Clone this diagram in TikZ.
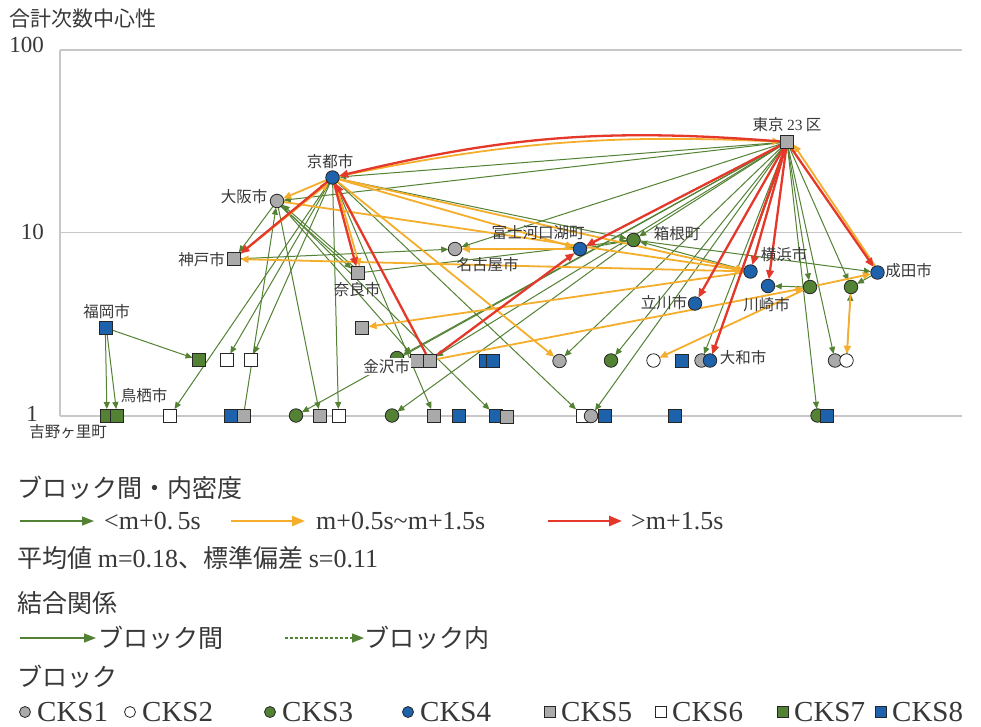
\documentclass[tikz,border=0pt]{standalone}
\usepackage{fontspec}
\setmainfont{Liberation Serif}
\newfontfamily\jp{Noto Sans CJK JP}
\usetikzlibrary{arrows.meta,backgrounds}
\definecolor{gline}{HTML}{548235}
\definecolor{oline}{HTML}{F4AE2C}
\definecolor{rline}{HTML}{E4382A}
\definecolor{gfill}{HTML}{548235}
\definecolor{bfill}{HTML}{1F62AC}
\definecolor{sfill}{HTML}{AAAAAA}
\definecolor{gridc}{HTML}{C8C8C8}
\definecolor{txt}{HTML}{383838}
\begin{document}
\begin{tikzpicture}[x=1pt,y=-1pt,
  mk/.style={draw=black!85, line width=0.8pt, inner sep=0pt, outer sep=0pt},
  ck/.style={mk, circle, minimum size=13.5pt},
  sq/.style={mk, rectangle, minimum size=13pt},
  k1/.style={ck, fill=sfill}, k2/.style={ck, fill=white},
  k3/.style={ck, fill=gfill}, k4/.style={ck, fill=bfill},
  k5/.style={sq, fill=sfill}, k6/.style={sq, fill=white},
  k7/.style={sq, fill=gfill}, k8/.style={sq, fill=bfill},
  lk1/.style={k1, minimum size=11pt}, lk2/.style={k2, minimum size=11pt},
  lk3/.style={k3, minimum size=11pt}, lk4/.style={k4, minimum size=11pt},
  lk5/.style={k5, minimum size=10.5pt}, lk6/.style={k6, minimum size=10.5pt},
  lk7/.style={k7, minimum size=10.5pt}, lk8/.style={k8, minimum size=10.5pt},
  lab/.style={font=\jp\fontsize{15.5}{16}\selectfont, text=txt, inner sep=0pt},
  axl/.style={font=\fontsize{23}{23}\selectfont, text=txt, inner sep=0pt, anchor=east},
  lgj/.style={font=\jp\fontsize{25}{26}\selectfont, text=txt, inner sep=0pt, anchor=west},
  lgl/.style={font=\fontsize{26}{26}\selectfont, text=txt, inner sep=0pt, anchor=west},
  cks/.style={font=\fontsize{29}{29}\selectfont, text=txt, inner sep=0pt, anchor=west},
  ge/.style={gline, line width=1pt, -{Triangle[length=7pt,width=6pt]}},
  oe/.style={oline, line width=1.8pt, -{Triangle[length=8pt,width=7pt]}},
  re/.style={rline, line width=2.3pt, -{Triangle[length=9pt,width=7.5pt]}},
  gleg/.style={gline, line width=1.3pt, -{Triangle[length=12pt,width=9pt]}},
  oleg/.style={oline, line width=2.4pt, -{Triangle[length=13pt,width=10pt]}},
  rleg/.style={rline, line width=2.6pt, -{Triangle[length=13pt,width=10pt]}}
]
\useasboundingbox (0,0) rectangle (981,726);

% ---------- axis texts ----------
\node[font=\jp\fontsize{21}{21}\selectfont, text=txt, inner sep=0pt, anchor=west] (ytitle) at (9,19) {合計次数中心性};
\node[axl] (t100) at (44,45) {100};
\node[axl] (t10) at (44,232) {10};
\node[axl] (t1) at (38,414) {1};

% ---------- upper nodes ----------
\node[k5] (tokyo) at (787,142) {};
\node[k4] (kyoto) at (332.5,177.5) {};
\node[k1] (osaka) at (277,201) {};
\node[k5] (kobe) at (234,259) {};
\node[k5] (nara) at (358,273) {};
\node[k1] (nagoya) at (455,249) {};
\node[k4] (fuji) at (580,249) {};
\node[k3] (hakone) at (633.5,240) {};
\node[k4] (yokohama) at (750.5,271.5) {};
\node[k4] (kawasaki) at (768,286) {};
\node[k3] (gA) at (810,287) {};
\node[k3] (gB) at (851,287) {};
\node[k4] (narita) at (877.5,272.5) {};
\node[k4] (tachikawa) at (695,303.5) {};
\node[k8] (fukuoka) at (106,328) {};
\node[k5] (sq1) at (362,327.5) {};

% ---------- middle row ----------
\node[k7] (p1) at (199,360) {};
\node[k6] (p2) at (226.5,360) {};
\node[k6] (p3) at (251,360) {};
\node[k3] (p4) at (397,358) {};
\node[k5] (kz1) at (417,360.5) {};
\node[k5] (kz2) at (429.5,360.5) {};
\node[k8] (p5) at (486,360.5) {};
\node[k8] (p6) at (493,360.5) {};
\node[k1] (p7) at (559.5,361) {};
\node[k3] (p8) at (611,360.5) {};
\node[k2] (p9) at (653.5,360.5) {};
\node[k8] (p10) at (682,360.5) {};
\node[k1] (p11) at (701.5,360.5) {};
\node[k4] (yamato) at (710,360.5) {};
\node[k1] (p12) at (835,360.5) {};
\node[k2] (p13) at (846.5,360.5) {};

% ---------- bottom row ----------
\node[k7] (q1) at (107,415.5) {};
\node[k7] (q2) at (117,415.5) {};
\node[k6] (q3) at (170,415.5) {};
\node[k8] (q4) at (231,415.5) {};
\node[k5] (q5) at (243.5,415.5) {};
\node[k3] (q6) at (296,415.5) {};
\node[k5] (q7) at (320,415.5) {};
\node[k6] (q8) at (338.5,415.5) {};
\node[k3] (q9) at (392,415.5) {};
\node[k5] (q10) at (434,415.5) {};
\node[k8] (q11) at (459,415.5) {};
\node[k8] (q12) at (496,416) {};
\node[k5] (q13) at (506.5,416.5) {};
\node[k6] (q14) at (582.5,415.5) {};
\node[k1] (q15) at (591,416) {};
\node[k8] (q16) at (604.5,416) {};
\node[k8] (q17) at (675,415.5) {};
\node[k3] (q18) at (817.5,415.5) {};
\node[k8] (q19) at (827,415.5) {};

% ---------- place names ----------
\node[lab] (l-tokyo) at (787,125) {東京 {\rmfamily 23} 区};
\node[lab] (l-kyoto) at (330,162) {京都市};
\node[lab] (l-osaka) at (244,197) {大阪市};
\node[lab] (l-kobe) at (201.5,260) {神戸市};
\node[lab] (l-nara) at (357,290) {奈良市};
\node[lab] (l-nagoya) at (487.5,264.5) {名古屋市};
\node[lab] (l-fuji) at (538,233) {富士河口湖町};
\node[lab] (l-hakone) at (677,234) {箱根町};
\node[lab] (l-yokohama) at (784,254.5) {横浜市};
\node[lab] (l-kawasaki) at (766.5,305) {川崎市};
\node[lab] (l-narita) at (908.5,270.5) {成田市};
\node[lab] (l-tachikawa) at (664,302.5) {立川市};
\node[lab] (l-fukuoka) at (106.5,312) {福岡市};
\node[lab] (l-tosu) at (144,396) {鳥栖市};
\node[lab] (l-yoshinogari) at (68,432) {吉野ヶ里町};
\node[lab, fill=white, inner sep=1pt] (l-kanazawa) at (386.5,366.5) {金沢市};
\node[lab] (l-yamato) at (743,357.5) {大和市};

% ---------- legend ----------
\node[lgj] (lg-dens) at (17,488) {ブロック間・内密度};
\coordinate (lg-ga) at (20,521);
\coordinate (lg-gb) at (94,521);
\draw[gleg] (lg-ga) -- (lg-gb);
\node[lgl] (lg-gt) at (104,521) {<m+0.\,5s};
\coordinate (lg-oa) at (231,521);
\coordinate (lg-ob) at (305,521);
\draw[oleg] (lg-oa) -- (lg-ob);
\node[lgl] (lg-ot) at (316,521) {m+0.5s\textasciitilde m+1.5s};
\coordinate (lg-ra) at (548,521);
\coordinate (lg-rb) at (622,521);
\draw[rleg] (lg-ra) -- (lg-rb);
\node[lgl] (lg-rt) at (631,521) {>m+1.5s};

\node[lgj] (lg-stat) at (17,558) {平均値 {\rmfamily\fontsize{26}{26}\selectfont m=0.18}、標準偏差 {\rmfamily\fontsize{26}{26}\selectfont s=0.11}};

\node[lgj] (lg-rel) at (17,603) {結合関係};
\coordinate (lg-sa) at (20,638);
\coordinate (lg-sb) at (96,638);
\draw[gleg] (lg-sa) -- (lg-sb);
\node[lgj] (lg-st) at (98,638) {ブロック間};
\coordinate (lg-da) at (285,638);
\coordinate (lg-db) at (364,638);
\draw[gleg, dash pattern=on 3pt off 2pt] (lg-da) -- (lg-db);
\node[lgj] (lg-dt) at (364,638) {ブロック内};

\node[lgj] (lg-blk) at (17,677) {ブロック};
\node[lk1] (lg-s1) at (25,712) {};
\node[cks] (lg-t1) at (37,712) {CKS1};
\node[lk2] (lg-s2) at (130,712) {};
\node[cks] (lg-t2) at (142,712) {CKS2};
\node[lk3] (lg-s3) at (270,712) {};
\node[cks] (lg-t3) at (282,712) {CKS3};
\node[lk4] (lg-s4) at (408,712) {};
\node[cks] (lg-t4) at (420,712) {CKS4};
\node[lk5] (lg-s5) at (550,712) {};
\node[cks] (lg-t5) at (561,712) {CKS5};
\node[lk6] (lg-s6) at (661,712) {};
\node[cks] (lg-t6) at (672,712) {CKS6};
\node[lk7] (lg-s7) at (783,712) {};
\node[cks] (lg-t7) at (794,712) {CKS7};
\node[lk8] (lg-s8) at (881,712) {};
\node[cks] (lg-t8) at (892,712) {CKS8};

% ---------- plot frame and connections (behind the markers) ----------
\begin{scope}[on background layer]
  \fill[white] (0,0) rectangle (981,726);
  \coordinate (ax-top) at (60,50);
  \coordinate (ax-bot) at (60,416);
  \draw[gridc, line width=1.4pt] (ax-top) -- (ax-bot);
  \draw[gridc, line width=1.4pt] (60,50) -- (962,50);
  \draw[gridc, line width=1.4pt] (60,232.5) -- (962,232.5);
  \draw[gridc, line width=1.4pt] (60,416) -- (962,416);

  % weak links
  \draw[ge] (tokyo) -- (kyoto);
  \draw[ge] (tokyo) -- (osaka);
  \draw[ge] (tokyo) -- (nagoya);
  \draw[ge] (tokyo) -- (hakone);
  \draw[ge] (tokyo) -- (kz2);
  \draw[ge] (tokyo) -- (p4);
  \draw[ge] (tokyo) -- (q6);
  \draw[ge] (tokyo) -- (p7);
  \draw[ge] (tokyo) -- (p8);
  \draw[ge] (tokyo) -- (q15);
  \draw[ge] (tokyo) -- (p11);
  \draw[ge] (tokyo.-100) -- (yamato);
  \draw[ge] (tokyo) -- (gA);
  \draw[ge] (tokyo) -- (gB);
  \draw[ge] (tokyo) -- (p12);
  \draw[ge] (tokyo) -- (q18);
  \draw[ge] (kyoto) -- (hakone);
  \draw[ge] (fuji) -- (hakone);
  \draw[ge] (yokohama) -- (hakone);
  \draw[ge] (hakone) -- (narita);
  \draw[ge] (nara) -- (hakone);
  \draw[ge] (hakone) -- (q9);
  \draw[ge] (kobe) -- (nagoya);
  \draw[ge] (osaka) -- (kobe);
  \draw[ge] (osaka.-55) -- (nara.145);
  \draw[ge] (nara.125) -- (osaka.-35);
  \draw[ge] (q5) -- (osaka);
  \draw[ge] (osaka) -- (q7);
  \draw[ge] (osaka) -- (kz1);
  \draw[ge] (osaka) -- (q12);
  \draw[ge] (kyoto) -- (q3);
  \draw[ge] (kyoto) -- (p2);
  \draw[ge] (kyoto) -- (p3);
  \draw[ge] (kyoto) -- (q8);
  \draw[ge] (kyoto) -- (q10);
  \draw[ge] (kyoto) -- (q14);
  \draw[ge] (fukuoka) -- (p1);
  \draw[ge] (fukuoka.-95) -- (q1);
  \draw[ge] (fukuoka.-80) -- (q2);
  \draw[ge] (gA) -- (kawasaki);
  \draw[ge] (narita) -- (gB);
  \draw[ge] (p13) -- (gB);

  % medium links
  \draw[oe] (kyoto) to[bend left=7] (tokyo);
  \draw[oe] (kyoto) -- (osaka);
  \draw[oe] (kobe.40) -- (kyoto.235);
  \draw[oe] (kyoto.-60) -- (nara.75);
  \draw[oe] (kyoto) -- (fuji);
  \draw[oe] (kyoto) -- (yokohama);
  \draw[oe] (kyoto) -- (p7);
  \draw[oe] (osaka) -- (yokohama);
  \draw[oe] (yokohama) -- (kobe);
  \draw[oe] (fuji) -- (nagoya);
  \draw[oe] (kz2) -- (gA);
  \draw[oe] (yokohama) -- (sq1);
  \draw[oe] (gA) -- (p9);
  \draw[oe] (gB) -- (p13);
  \draw[oe] (gA) -- (narita);
  \draw[oe] (narita.110) -- (tokyo.-20);

  % strong links
  \draw[re] (tokyo) to[bend right=9] (kyoto);
  \draw[re] (kyoto) -- (kobe);
  \draw[re] (kyoto) -- (nara);
  \draw[re] (kz2) -- (kyoto);
  \draw[re] (kz2) -- (fuji);
  \draw[re] (tokyo) -- (fuji);
  \draw[re] (tokyo) -- (tachikawa);
  \draw[re] (tokyo) -- (yamato);
  \draw[re] (tokyo) -- (yokohama);
  \draw[re] (tokyo) -- (kawasaki);
  \draw[re] (tokyo) -- (narita);
\end{scope}
\end{tikzpicture}
\end{document}
